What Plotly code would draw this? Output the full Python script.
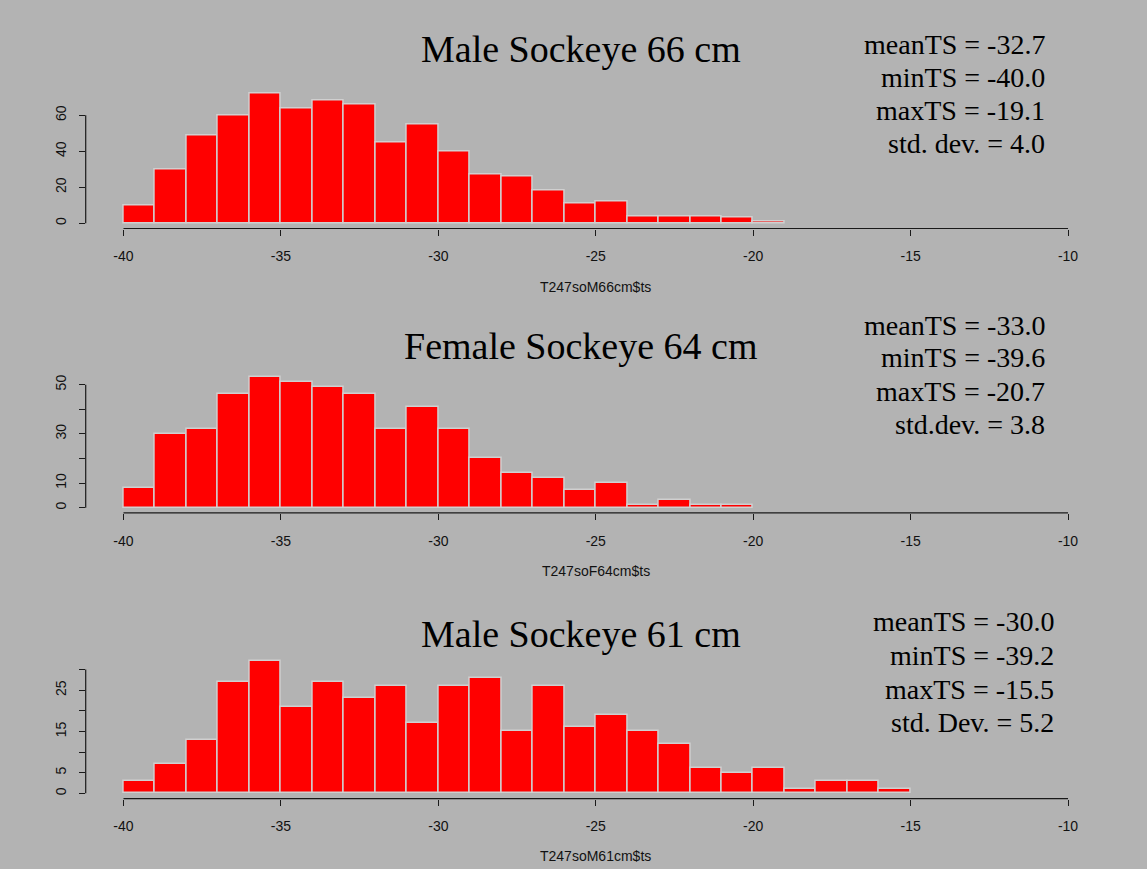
import numpy as np
import plotly.graph_objects as go

# ---------------- data ----------------
BIN_START = -40          # first histogram break
BIN_WIDTH = 1

counts_m66 = [10, 30, 49, 60, 72, 64, 68, 66, 45, 55, 40, 27, 26, 18, 11, 12, 4, 4, 4, 3, 1]
counts_f64 = [8, 30, 32, 46, 53, 51, 49, 46, 32, 41, 32, 20, 14, 12, 7, 10, 1, 3, 1, 1]
counts_m61 = [3, 7, 13, 27, 32, 21, 27, 23, 26, 17, 26, 28, 15, 26, 16, 19, 15, 12, 6, 5, 6, 1, 3, 3, 1]

titles = ["Male Sockeye 66 cm", "Female Sockeye 64 cm", "Male Sockeye 61 cm"]
xlabels = ["T247soM66cm$ts", "T247soF64cm$ts", "T247soM61cm$ts"]
stats = [
    ["meanTS = -32.7", "minTS = -40.0", "maxTS = -19.1", "std. dev. = 4.0"],
    ["meanTS = -33.0", "minTS = -39.6", "maxTS = -20.7", "std.dev. = 3.8"],
    ["meanTS = -30.0", "minTS = -39.2", "maxTS = -15.5", "std. Dev. = 5.2"],
]

x_ticks = [-40, -35, -30, -25, -20, -15, -10]
y_ticks = [
    [0, 20, 40, 60],
    [0, 10, 20, 30, 40, 50],
    [0, 5, 10, 15, 20, 25, 30],
]
y_ticktext = [
    ["0", "20", "40", "60"],
    ["0", "10", "", "30", "", "50"],
    ["0", "5", "", "15", "", "25", ""],
]

# ---------------- layout constants ----------------
W, H = 1147, 869
BG = "#b3b3b3"
x_dom = [85.7 / W, 1105.8 / W]
y_px = [(88.5, 228.5), (372.1, 512.9), (656.1, 798.6)]
title_y = [49, 346, 634]
stats_y = [[45, 78, 111, 144], [325, 357, 391, 424], [621, 655, 689, 722]]
stats_x = [1047, 1047, 1056]
xlab_y = [287, 571, 856]

all_counts = [counts_m66, counts_f64, counts_m61]

fig = go.Figure()
shapes = []
annotations = []

for i, counts in enumerate(all_counts):
    n = i + 1
    xa = "x" if n == 1 else f"x{n}"
    ya = "y" if n == 1 else f"y{n}"
    starts = BIN_START + BIN_WIDTH * np.arange(len(counts))
    mids = starts + BIN_WIDTH / 2
    fig.add_trace(go.Bar(
        x=mids, y=counts, width=BIN_WIDTH,
        marker=dict(color="#ff0000", line=dict(color="#d0d0d0", width=1.5)),
        xaxis=xa, yaxis=ya, showlegend=False, hoverinfo="x+y",
    ))
    ymax = max(counts)
    yr = [-0.04 * ymax, 1.04 * ymax]
    xr = [x_ticks[0] - 0.04 * (x_ticks[-1] - x_ticks[0]),
          x_ticks[-1] + 0.04 * (x_ticks[-1] - x_ticks[0])]
    top, bot = y_px[i]
    dom = [1 - bot / H, 1 - top / H]
    axfont = dict(family="Liberation Sans, Arial, sans-serif", size=14, color="#111111")
    fig.layout[f"xaxis{'' if n == 1 else n}"] = dict(
        domain=x_dom, range=xr, anchor=ya,
        tickvals=x_ticks, ticktext=[str(v) for v in x_ticks],
        ticks="outside", ticklen=6, tickwidth=1, tickcolor="#1a1a1a",
        showline=False, showgrid=False, zeroline=False,
        tickfont=axfont, ticklabelstandoff=9, fixedrange=True,
    )
    fig.layout[f"yaxis{'' if n == 1 else n}"] = dict(
        domain=dom, range=yr, anchor=xa,
        tickvals=y_ticks[i], ticktext=y_ticktext[i], tickangle=-90,
        ticks="outside", ticklen=6, tickwidth=1, tickcolor="#1a1a1a",
        showline=False, showgrid=False, zeroline=False,
        tickfont=axfont, ticklabelstandoff=7, fixedrange=True,
    )
    # R-style axis lines spanning first..last tick
    shapes.append(dict(type="line", xref=xa, yref=f"{ya} domain",
                       x0=x_ticks[0], x1=x_ticks[-1], y0=0, y1=0,
                       line=dict(color="#1a1a1a", width=1.2)))
    shapes.append(dict(type="line", xref=f"{xa} domain", yref=ya,
                       x0=0, x1=0, y0=y_ticks[i][0], y1=y_ticks[i][-1],
                       line=dict(color="#1a1a1a", width=1.2)))
    # title
    annotations.append(dict(text=titles[i], x=581 / W, y=1 - title_y[i] / H,
                            xref="paper", yref="paper", xanchor="center", yanchor="middle",
                            showarrow=False,
                            font=dict(family="Liberation Serif, Times New Roman, serif",
                                      size=38, color="#000000")))
    # stats
    for j, s in enumerate(stats[i]):
        annotations.append(dict(text=s, x=stats_x[i] / W, y=1 - stats_y[i][j] / H,
                                xref="paper", yref="paper", xanchor="right", yanchor="middle",
                                showarrow=False,
                                font=dict(family="Liberation Serif, Times New Roman, serif",
                                          size=28, color="#000000")))
    # x axis label
    annotations.append(dict(text=xlabels[i], x=(x_dom[0] + x_dom[1]) / 2, y=1 - xlab_y[i] / H,
                            xref="paper", yref="paper", xanchor="center", yanchor="middle",
                            showarrow=False, font=axfont))

fig.update_layout(
    width=W, height=H, margin=dict(l=0, r=0, t=0, b=0),
    paper_bgcolor=BG, plot_bgcolor=BG,
    bargap=0, shapes=shapes, annotations=annotations,
)

fig.write_html("out.html", config={"displayModeBar": False})
